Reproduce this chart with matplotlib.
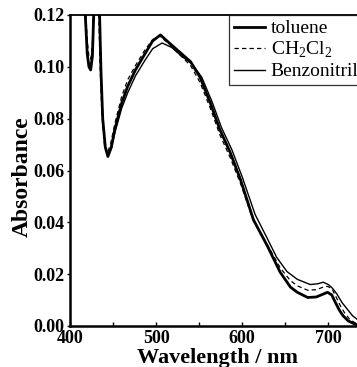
import numpy as np
import matplotlib.pyplot as plt
from matplotlib.ticker import MultipleLocator

plt.rcParams['font.family'] = ['Liberation Serif', 'DejaVu Serif']
plt.rcParams['mathtext.fontset'] = 'custom'
plt.rcParams['mathtext.rm'] = 'Liberation Serif'

# toluene
wl_tol = [400, 408, 413, 417, 420, 422, 424, 426, 428, 431, 434, 436, 438, 441, 444,
          448, 452, 460, 467, 476, 487, 496, 505, 516, 528, 540, 551, 563, 574, 586,
          598, 613, 629, 644, 656, 664, 676, 686, 694, 699, 704, 708, 713, 717, 723, 729, 736]
abs_tol = [0.30, 0.26, 0.17, 0.125, 0.105, 0.100, 0.0988, 0.104, 0.125, 0.16, 0.125, 0.098, 0.080, 0.069, 0.0654,
           0.069, 0.0758, 0.086, 0.0925, 0.0988, 0.105, 0.110, 0.1123, 0.109, 0.1055, 0.102, 0.096, 0.086, 0.0758, 0.067,
           0.0565, 0.041, 0.031, 0.0208, 0.0150, 0.0130, 0.0110, 0.0112, 0.0123, 0.0130, 0.0120, 0.0092, 0.0060, 0.0040, 0.0020, 0.0010, 0.0002]

# CH2Cl2
wl_dcm = [400, 408, 413, 417, 420, 422, 424, 426, 428, 431, 433, 435, 437, 440, 443,
          447, 452, 460, 467, 476, 487, 496, 504, 516, 528, 540, 551, 563, 574, 586,
          598, 613, 629, 644, 656, 664, 676, 686, 694, 699, 704, 709, 714, 719, 725, 731, 738]
abs_dcm = [0.30, 0.26, 0.17, 0.13, 0.110, 0.104, 0.103, 0.108, 0.13, 0.16, 0.125, 0.100, 0.082, 0.070, 0.0665,
           0.070, 0.078, 0.0885, 0.095, 0.1005, 0.1065, 0.1105, 0.1120, 0.1085, 0.1045, 0.1005, 0.094, 0.084, 0.0738, 0.0650,
           0.0550, 0.0405, 0.0315, 0.0225, 0.0175, 0.0155, 0.0138, 0.0140, 0.0150, 0.0153, 0.0145, 0.0112, 0.0078, 0.0050, 0.0025, 0.0012, 0.0003]

# Benzonitrile
wl_bzn = [400, 408, 413, 417, 420, 422, 424, 426, 428, 431, 434, 436, 438, 441, 444,
          448, 452, 460, 467, 476, 487, 496, 507, 518, 530, 542, 553, 565, 576, 588,
          600, 615, 628, 640, 652, 664, 679, 688, 694, 700, 705, 710, 716, 722, 728, 733, 740]
abs_bzn = [0.30, 0.26, 0.17, 0.125, 0.106, 0.101, 0.100, 0.105, 0.125, 0.16, 0.125, 0.098, 0.080, 0.069, 0.0658,
           0.0685, 0.0745, 0.084, 0.090, 0.0965, 0.1025, 0.1070, 0.1092, 0.1075, 0.1040, 0.1010, 0.0960, 0.0865, 0.0765, 0.0680,
           0.0575, 0.0430, 0.0345, 0.0265, 0.0210, 0.0180, 0.0160, 0.0163, 0.0169, 0.0160, 0.0145, 0.0123, 0.0090, 0.0065, 0.0040, 0.0027, 0.0008]

fig = plt.figure(figsize=(3.57, 3.67), dpi=100)
ax = fig.add_axes([70 / 357, 41 / 367, 310 / 357, 311 / 367])

ax.plot(wl_tol, abs_tol, color='black', lw=2.0, label='toluene')
ax.plot(wl_dcm, abs_dcm, color='black', lw=0.9, ls=(0, (3.5, 2.5)), label='CH$_2$Cl$_2$')
ax.plot(wl_bzn, abs_bzn, color='black', lw=1.0, label='Benzonitrile')

ax.set_xlim(400, 760)
ax.set_ylim(0, 0.12)
ax.xaxis.set_major_locator(MultipleLocator(100))
ax.xaxis.set_minor_locator(MultipleLocator(50))
ax.yaxis.set_major_locator(MultipleLocator(0.02))
ax.yaxis.set_major_formatter(plt.FuncFormatter(lambda v, p: '%.2f' % v))
ax.tick_params(axis='x', which='both', direction='in', length=3, width=1, pad=3, top=False)
ax.tick_params(axis='y', direction='out', length=2, width=1, pad=2, right=False)
for lab in ax.get_xticklabels() + ax.get_yticklabels():
    lab.set_fontweight('bold')
    lab.set_fontsize(13)

for s in ['left', 'bottom']:
    ax.spines[s].set_linewidth(1.8)
ax.spines['top'].set_linewidth(1.3)
ax.spines['right'].set_visible(False)

ax.set_xlabel('Wavelength / nm', fontsize=16, fontweight='bold')
ax.xaxis.set_label_coords(0.477, -0.071, transform=ax.transAxes)
ax.xaxis.label.set_va('top')
ax.set_ylabel('Absorbance', fontsize=17, fontweight='bold')
ax.yaxis.set_label_coords(-0.119, 0.479)

leg = ax.legend(loc='upper left', bbox_to_anchor=(229 / 357, 352 / 367),
                bbox_transform=fig.transFigure, fontsize=14, frameon=True, fancybox=False,
                handlelength=1.6, handletextpad=0.3, labelspacing=0.13, borderpad=0.25,
                borderaxespad=0)
leg.get_frame().set_edgecolor('black')
leg.get_frame().set_linewidth(0.9)

fig.savefig('out.png', dpi=100)
